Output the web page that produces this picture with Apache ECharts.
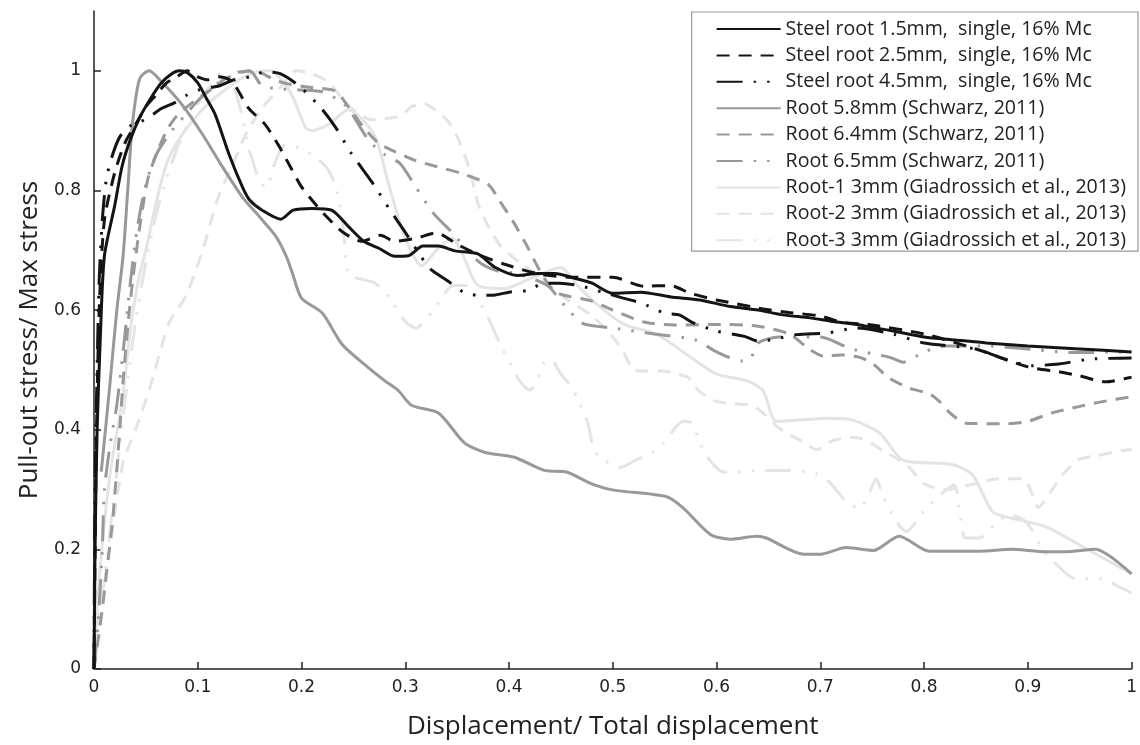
<!DOCTYPE html>
<html>
<head>
<meta charset="utf-8">
<script src="https://cdn.jsdelivr.net/npm/echarts@6/dist/echarts.min.js"></script>
<style>
html,body{margin:0;padding:0;background:#fff;}
#chart{width:1140px;height:745px;}
</style>
</head>
<body>
<div id="chart"></div>
<script>
// ---- data ----
var seriesNames = [
  'Steel root 1.5mm,  single, 16% Mc',
  'Steel root 2.5mm,  single, 16% Mc',
  'Steel root 4.5mm,  single, 16% Mc',
  'Root 5.8mm (Schwarz, 2011)',
  'Root 6.4mm (Schwarz, 2011)',
  'Root 6.5mm (Schwarz, 2011)',
  'Root-1 3mm (Giadrossich et al., 2013)',
  'Root-2 3mm (Giadrossich et al., 2013)',
  'Root-3 3mm (Giadrossich et al., 2013)'
];
var xTicks = [0,0.1,0.2,0.3,0.4,0.5,0.6,0.7,0.8,0.9,1];
var yTicks = [0,0.2,0.4,0.6,0.8,1];

var steel15 = [[0,0],[0.001,0.2],[0.003,0.4],[0.006,0.55],[0.01,0.69],[0.02,0.775],[0.027,0.84],[0.035,0.885],[0.045,0.925],[0.055,0.955],[0.065,0.98],[0.075,0.995],[0.082,1.0],[0.09,0.997],[0.1,0.98],[0.108,0.955],[0.117,0.926],[0.13,0.861],[0.143,0.806],[0.15,0.784],[0.162,0.767],[0.18,0.752],[0.192,0.767],[0.21,0.77],[0.229,0.767],[0.245,0.74],[0.26,0.715],[0.275,0.703],[0.29,0.69],[0.303,0.691],[0.317,0.707],[0.332,0.707],[0.348,0.699],[0.37,0.694],[0.386,0.672],[0.408,0.658],[0.428,0.661],[0.444,0.661],[0.466,0.652],[0.48,0.645],[0.5,0.628],[0.527,0.63],[0.556,0.622],[0.584,0.617],[0.613,0.606],[0.64,0.6],[0.664,0.592],[0.69,0.587],[0.712,0.581],[0.735,0.576],[0.77,0.565],[0.8,0.555],[0.83,0.55],[0.86,0.545],[0.9,0.54],[0.95,0.535],[1.0,0.53]];

var steel25 = [[0,0],[0.002,0.35],[0.005,0.6],[0.01,0.75],[0.02,0.83],[0.03,0.88],[0.04,0.91],[0.05,0.94],[0.06,0.96],[0.07,0.98],[0.08,0.99],[0.09,1.0],[0.1,0.99],[0.11,0.985],[0.12,0.99],[0.133,0.982],[0.149,0.9375],[0.165,0.91],[0.178,0.875],[0.19,0.837],[0.2,0.806],[0.21,0.784],[0.222,0.76],[0.24,0.73],[0.258,0.715],[0.276,0.725],[0.29,0.715],[0.31,0.72],[0.33,0.729],[0.35,0.71],[0.37,0.693],[0.395,0.677],[0.43,0.66],[0.46,0.655],[0.5,0.655],[0.53,0.64],[0.555,0.641],[0.575,0.628],[0.6,0.617],[0.645,0.602],[0.67,0.596],[0.7,0.59],[0.72,0.58],[0.75,0.575],[0.8,0.56],[0.85,0.535],[0.9,0.505],[0.93,0.497],[0.95,0.49],[0.975,0.48],[1.0,0.488]];

var steel45 = [[0,0],[0.001,0.3],[0.003,0.5],[0.005,0.65],[0.008,0.75],[0.012,0.82],[0.018,0.86],[0.025,0.89],[0.035,0.908],[0.045,0.915],[0.055,0.925],[0.065,0.937],[0.077,0.946],[0.089,0.959],[0.101,0.968],[0.121,0.975],[0.135,0.985],[0.15,0.99],[0.165,0.998],[0.18,0.995],[0.198,0.974],[0.219,0.9375],[0.233,0.905],[0.248,0.862],[0.271,0.806],[0.285,0.768],[0.3,0.73],[0.315,0.69],[0.324,0.669],[0.34,0.65],[0.356,0.63],[0.37,0.625],[0.385,0.625],[0.4,0.63],[0.418,0.633],[0.434,0.645],[0.449,0.645],[0.47,0.64],[0.49,0.63],[0.51,0.62],[0.527,0.612],[0.55,0.595],[0.564,0.592],[0.576,0.58],[0.6,0.565],[0.627,0.556],[0.64,0.548],[0.655,0.551],[0.677,0.559],[0.708,0.562],[0.735,0.57],[0.77,0.56],[0.8,0.545],[0.85,0.535],[0.878,0.518],[0.903,0.507],[0.93,0.51],[0.96,0.518],[1.0,0.52]];

var root58 = [[0.007,0.33],[0.015,0.47],[0.022,0.6],[0.028,0.69],[0.0325,0.8],[0.037,0.91],[0.044,0.987],[0.053,1.0],[0.066,0.98],[0.085,0.943],[0.1045,0.894],[0.124,0.839],[0.143,0.789],[0.159,0.757],[0.175,0.724],[0.185,0.691],[0.191,0.663],[0.2,0.62],[0.22,0.595],[0.239,0.543],[0.26,0.51],[0.28,0.482],[0.293,0.466],[0.306,0.441],[0.332,0.428],[0.357,0.378],[0.377,0.362],[0.405,0.354],[0.434,0.332],[0.456,0.329],[0.479,0.31],[0.501,0.299],[0.552,0.288],[0.568,0.269],[0.594,0.225],[0.613,0.217],[0.639,0.222],[0.648,0.219],[0.684,0.192],[0.7,0.192],[0.725,0.203],[0.751,0.198],[0.776,0.222],[0.805,0.197],[0.853,0.197],[0.885,0.2],[0.917,0.196],[0.936,0.196],[0.965,0.2],[1.0,0.159]];

var root64 = [[0,0],[0.008,0.1],[0.012,0.16],[0.018,0.25],[0.024,0.38],[0.028,0.48],[0.033,0.58],[0.038,0.66],[0.045,0.75],[0.052,0.82],[0.06,0.86],[0.07,0.9],[0.08,0.925],[0.1,0.954],[0.11,0.965],[0.125,0.985],[0.14,0.998],[0.155,1.0],[0.175,0.984],[0.19,0.977],[0.21,0.972],[0.233,0.966],[0.245,0.94],[0.26,0.905],[0.275,0.878],[0.29,0.865],[0.31,0.85],[0.33,0.84],[0.355,0.828],[0.38,0.81],[0.39,0.785],[0.405,0.745],[0.418,0.705],[0.43,0.665],[0.445,0.63],[0.48,0.615],[0.5,0.6],[0.53,0.58],[0.56,0.575],[0.6,0.576],[0.64,0.573],[0.67,0.56],[0.69,0.534],[0.703,0.523],[0.72,0.525],[0.738,0.521],[0.751,0.51],[0.765,0.488],[0.785,0.47],[0.805,0.46],[0.815,0.447],[0.825,0.428],[0.84,0.411],[0.88,0.41],[0.9,0.414],[0.923,0.428],[0.95,0.439],[0.972,0.447],[1.0,0.455]];

var root65 = [[0,0],[0.004,0.08],[0.008,0.2],[0.01,0.3],[0.016,0.38],[0.021,0.43],[0.023,0.455],[0.029,0.546],[0.036,0.661],[0.042,0.74],[0.05,0.81],[0.06,0.86],[0.075,0.9],[0.09,0.93],[0.1,0.95],[0.12,0.98],[0.15,1.0],[0.162,0.975],[0.18,0.97],[0.2,0.968],[0.22,0.965],[0.233,0.954],[0.245,0.9375],[0.265,0.883],[0.28,0.86],[0.295,0.845],[0.31,0.806],[0.327,0.762],[0.345,0.73],[0.36,0.7],[0.373,0.678],[0.39,0.665],[0.408,0.661],[0.437,0.641],[0.45,0.615],[0.46,0.595],[0.472,0.577],[0.5,0.57],[0.54,0.56],[0.58,0.55],[0.6,0.53],[0.625,0.515],[0.633,0.52],[0.64,0.545],[0.66,0.555],[0.7,0.555],[0.73,0.535],[0.767,0.521],[0.78,0.513],[0.8,0.53],[0.82,0.54],[0.86,0.54],[0.9,0.535],[0.943,0.529],[1.0,0.53]];

var root1 = [[0,0],[0.005,0.15],[0.015,0.32],[0.028,0.46],[0.036,0.58],[0.044,0.66],[0.05,0.7],[0.06,0.78],[0.07,0.845],[0.08,0.88],[0.092,0.91],[0.11,0.945],[0.124,0.965],[0.14,0.985],[0.156,0.998],[0.17,1.0],[0.178,0.99],[0.19,0.962],[0.204,0.905],[0.21,0.9],[0.226,0.91],[0.245,0.935],[0.27,0.893],[0.284,0.81],[0.3,0.72],[0.316,0.674],[0.33,0.7],[0.345,0.72],[0.357,0.686],[0.37,0.641],[0.396,0.636],[0.421,0.653],[0.45,0.671],[0.466,0.641],[0.485,0.609],[0.511,0.576],[0.543,0.559],[0.575,0.521],[0.6,0.493],[0.629,0.482],[0.645,0.465],[0.658,0.414],[0.709,0.419],[0.731,0.416],[0.757,0.395],[0.78,0.349],[0.827,0.342],[0.847,0.324],[0.866,0.263],[0.885,0.252],[0.917,0.238],[0.949,0.208],[1.0,0.159]];

var root2 = [[0,0],[0.005,0.087],[0.015,0.2],[0.028,0.345],[0.04,0.4],[0.053,0.465],[0.063,0.526],[0.073,0.581],[0.089,0.625],[0.105,0.702],[0.12,0.79],[0.134,0.844],[0.146,0.893],[0.162,0.9375],[0.181,0.975],[0.195,1.0],[0.21,0.995],[0.226,0.981],[0.239,0.954],[0.252,0.932],[0.268,0.918],[0.285,0.921],[0.296,0.925],[0.306,0.94],[0.319,0.945],[0.329,0.934],[0.341,0.916],[0.35,0.89],[0.357,0.86],[0.363,0.83],[0.37,0.778],[0.38,0.74],[0.392,0.707],[0.41,0.68],[0.43,0.655],[0.45,0.625],[0.48,0.59],[0.5,0.555],[0.51,0.531],[0.52,0.5],[0.533,0.498],[0.549,0.498],[0.56,0.493],[0.572,0.488],[0.583,0.465],[0.597,0.449],[0.61,0.444],[0.635,0.44],[0.648,0.423],[0.658,0.406],[0.667,0.395],[0.68,0.383],[0.697,0.367],[0.712,0.382],[0.731,0.387],[0.744,0.383],[0.76,0.365],[0.783,0.342],[0.8,0.31],[0.82,0.3],[0.847,0.309],[0.872,0.318],[0.895,0.318],[0.905,0.29],[0.91,0.27],[0.924,0.301],[0.933,0.324],[0.949,0.35],[0.968,0.357],[0.99,0.365],[1.0,0.367]];

var root3 = [[0,0],[0.01,0.15],[0.02,0.3],[0.03,0.45],[0.04,0.58],[0.05,0.68],[0.06,0.76],[0.07,0.82],[0.08,0.87],[0.09,0.91],[0.1,0.945],[0.11,0.97],[0.125,1.0],[0.135,0.97],[0.142,0.93],[0.149,0.872],[0.154,0.844],[0.159,0.817],[0.166,0.805],[0.175,0.85],[0.185,0.877],[0.204,0.866],[0.216,0.852],[0.226,0.834],[0.234,0.8],[0.24,0.74],[0.242,0.7],[0.245,0.66],[0.255,0.653],[0.271,0.645],[0.284,0.622],[0.3,0.581],[0.31,0.57],[0.327,0.6],[0.335,0.62],[0.346,0.641],[0.359,0.641],[0.373,0.609],[0.38,0.587],[0.386,0.564],[0.395,0.53],[0.404,0.502],[0.41,0.482],[0.42,0.466],[0.428,0.488],[0.434,0.512],[0.44,0.517],[0.45,0.493],[0.46,0.472],[0.466,0.452],[0.476,0.411],[0.482,0.365],[0.491,0.35],[0.507,0.337],[0.523,0.35],[0.536,0.359],[0.549,0.378],[0.568,0.414],[0.576,0.411],[0.583,0.384],[0.588,0.362],[0.603,0.332],[0.616,0.329],[0.645,0.332],[0.67,0.332],[0.697,0.326],[0.709,0.312],[0.725,0.28],[0.738,0.268],[0.746,0.29],[0.754,0.318],[0.76,0.29],[0.773,0.247],[0.783,0.23],[0.799,0.263],[0.815,0.29],[0.829,0.308],[0.834,0.268],[0.84,0.219],[0.853,0.219],[0.869,0.243],[0.882,0.258],[0.895,0.25],[0.903,0.235],[0.914,0.2],[0.924,0.181],[0.946,0.151],[0.972,0.151],[0.985,0.14],[1.0,0.127]];

var seriesData = [steel15, steel25, steel45, root58, root64, root65, root1, root2, root3];

// ---- styles ----
var BLACK = '#141414', GRAY = '#999999', LIGHT = '#e4e4e4';
var DASH = [13, 9];
var DASHDOT = [26, 11, 2.5, 11, 2.5, 11];
var styles = [
  {color: BLACK, type: 'solid', z: 6},
  {color: BLACK, type: DASH, z: 6},
  {color: BLACK, type: DASHDOT, z: 6},
  {color: GRAY, type: 'solid', z: 4},
  {color: GRAY, type: DASH, z: 4},
  {color: GRAY, type: DASHDOT, z: 4},
  {color: LIGHT, type: 'solid', z: 2},
  {color: LIGHT, type: DASH, z: 2},
  {color: LIGHT, type: DASHDOT, z: 2}
];

var series = seriesNames.map(function (name, i) {
  return {
    name: name,
    type: 'line',
    data: seriesData[i],
    symbol: 'none',
    smooth: 0.25,
    z: styles[i].z,
    color: styles[i].color,
    lineStyle: {color: styles[i].color, width: 3, type: styles[i].type, cap: 'butt'},
    animation: false
  };
});

var chart = echarts.init(document.getElementById('chart'), null, {renderer: 'canvas'});
chart.setOption({
  backgroundColor: '#ffffff',
  animation: false,
  grid: {left: 94, right: 3, top: 11, bottom: 65, containLabel: false},
  legend: {
    orient: 'vertical',
    right: 2,
    top: 12,
    data: seriesNames,
    itemWidth: 64,
    itemHeight: 16,
    itemGap: 6.4,
    padding: [7, 12, 1, 24],
    borderColor: '#9a9a9a',
    borderWidth: 1.2,
    backgroundColor: '#ffffff',
    itemStyle: {color: 'rgba(0,0,0,0)', borderColor: 'rgba(0,0,0,0)', borderWidth: 0, opacity: 0},
    textStyle: {fontFamily: 'Open Sans', fontSize: 19.6, color: '#222', lineHeight: 16},
    selectedMode: false
  },
  xAxis: {
    type: 'value',
    min: 0, max: 1, interval: 0.1,
    name: 'Displacement/ Total displacement',
    nameLocation: 'middle',
    nameGap: 45,
    nameTextStyle: {fontFamily: 'Open Sans', fontSize: 26, color: '#222'},
    axisLine: {show: true, onZero: false, lineStyle: {color: '#222', width: 1.5}},
    axisTick: {show: true, inside: true, length: 7, lineStyle: {color: '#222', width: 1.5}, customValues: xTicks},
    axisLabel: {fontFamily: 'DejaVu Sans', fontSize: 17, color: '#222', margin: 10, customValues: xTicks},
    splitLine: {show: false}
  },
  yAxis: {
    type: 'value',
    min: 0, max: 1.1, interval: 0.2,
    name: 'Pull-out stress/ Max stress',
    nameLocation: 'middle',
    nameGap: 46,
    nameTextStyle: {fontFamily: 'Open Sans', fontSize: 26, color: '#222'},
    axisLine: {show: true, onZero: false, lineStyle: {color: '#222', width: 1.5}},
    axisTick: {show: true, inside: true, length: 7, lineStyle: {color: '#222', width: 1.5}, customValues: yTicks},
    axisLabel: {fontFamily: 'DejaVu Sans', fontSize: 17, color: '#222', margin: 13, customValues: yTicks},
    splitLine: {show: false}
  },
  series: series
});
</script>
</body>
</html>
